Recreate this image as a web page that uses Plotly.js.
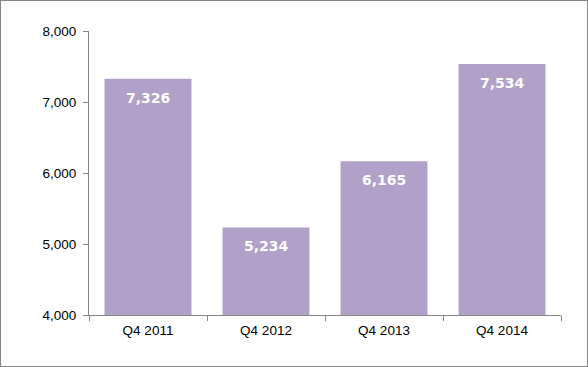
<!DOCTYPE html>
<html><head><meta charset="utf-8">
<script src="https://cdn.plot.ly/plotly-3.0.1.min.js"></script>
<style>
html,body{margin:0;padding:0;background:#fff;}
#wrap{width:588px;height:367px;box-sizing:border-box;border:1px solid #868686;}
#chart{width:586px;height:365px;}
</style></head>
<body><div id="wrap"><div id="chart"></div></div>
<script>
const categories = ["Q4 2011", "Q4 2012", "Q4 2013", "Q4 2014"];
const values = [7326, 5234, 6165, 7534];
const yTicks = [4000, 5000, 6000, 7000, 8000];
const yTickLabels = ["4,000", "5,000", "6,000", "7,000", "8,000"];

const barColor = "#B1A1C8";
const axisColor = "#868686";

const annotations = categories.map((c, i) => ({
  x: c, y: values[i], xref: "x", yref: "y",
  text: values[i].toLocaleString("en-US"),
  showarrow: false, yanchor: "middle", yshift: -19,
  font: {family: "DejaVu Sans", size: 14, color: "#ffffff", weight: "bold"}
}));

Plotly.newPlot("chart", [{
  type: "bar", x: categories, y: values,
  marker: {color: barColor, line: {width: 0}},
  width: 0.737, hoverinfo: "none"
}], {
  width: 586, height: 365,
  margin: {l: 88, r: 26, t: 30, b: 51},
  paper_bgcolor: "#ffffff", plot_bgcolor: "#ffffff",
  showlegend: false,
  xaxis: {
    type: "category", showline: true, linecolor: axisColor, linewidth: 1,
    ticks: "outside", tickson: "boundaries", ticklen: 5, tickcolor: axisColor,
    ticklabelstandoff: 3,
    tickfont: {family: "Liberation Sans", size: 13.5, color: "#000"},
    showgrid: false, zeroline: false
  },
  yaxis: {
    range: [4000, 8000], tickvals: yTicks, ticktext: yTickLabels,
    showline: true, linecolor: axisColor, linewidth: 1,
    ticks: "outside", ticklen: 5, tickcolor: axisColor,
    ticklabelstandoff: 4,
    tickfont: {family: "Liberation Sans", size: 13.5, color: "#000"},
    showgrid: false, zeroline: false
  },
  annotations: annotations
}, {staticPlot: true, displayModeBar: false});
</script></body></html>
